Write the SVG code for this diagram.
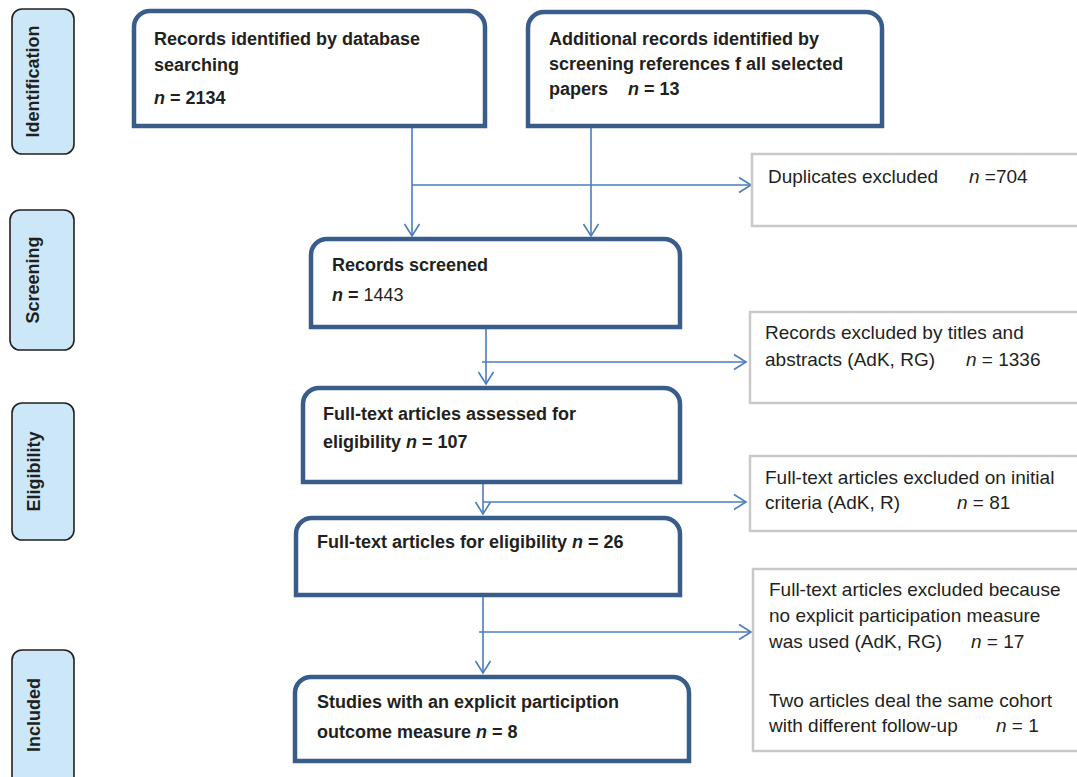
<svg xmlns="http://www.w3.org/2000/svg" width="1077" height="777" viewBox="0 0 1077 777">
<style>
text{font-family:"Liberation Sans",Arial,sans-serif;fill:#231f20}
.stage rect{fill:#cce8f8;stroke:#231f20;stroke-width:1.6}
.stage text{font-size:18px;font-weight:bold;text-anchor:middle}
.main path{fill:#fff;stroke:#385d8a;stroke-width:4.5}
.main text{font-size:18px;font-weight:bold}
.side rect{fill:#fff;stroke:#c9c9c9;stroke-width:2.5}
.side text{font-size:19px}
.rg{font-weight:normal}
.it{font-style:italic}
#connectors line{stroke:#4a7ebb;stroke-width:1.6;fill:none}
</style>
<defs>
<marker id="arr" markerUnits="userSpaceOnUse" markerWidth="16" markerHeight="18" viewBox="-14 -9 16 18" refX="0" refY="0" orient="auto" overflow="visible">
<path d="M-12,-7.5 L0,0 L-12,7.5" fill="none" stroke="#4a7ebb" stroke-width="1.6"/>
</marker>
</defs>
<rect width="1077" height="777" fill="#fff"/>

<g id="stage-identification" class="stage"><rect x="12" y="9" width="62" height="145" rx="10"/><text transform="translate(39,81.5) rotate(-90)">Identification</text></g>
<g id="stage-screening" class="stage"><rect x="10" y="210" width="64" height="140" rx="10"/><text transform="translate(39,280) rotate(-90)">Screening</text></g>
<g id="stage-eligibility" class="stage"><rect x="12" y="403" width="62" height="137" rx="10"/><text transform="translate(40,471.5) rotate(-90)">Eligibility</text></g>
<g id="stage-included" class="stage"><rect x="12" y="650" width="62" height="145" rx="10"/><text transform="translate(40,715) rotate(-90)">Included</text></g>

<g id="connectors">
<line x1="412" y1="128" x2="412" y2="236" marker-end="url(#arr)"/>
<line x1="591" y1="128" x2="591" y2="236" marker-end="url(#arr)"/>
<line x1="412" y1="185" x2="751" y2="185" marker-end="url(#arr)"/>
<line x1="486" y1="329" x2="486" y2="384" marker-end="url(#arr)"/>
<line x1="482" y1="362" x2="746" y2="362" marker-end="url(#arr)"/>
<line x1="483" y1="484" x2="483" y2="514" marker-end="url(#arr)"/>
<line x1="483" y1="502" x2="746" y2="502" marker-end="url(#arr)"/>
<line x1="483" y1="597" x2="483" y2="673" marker-end="url(#arr)"/>
<line x1="479" y1="632" x2="751" y2="632" marker-end="url(#arr)"/>
</g>

<g id="node-database" class="main">
<path d="M134,126 V27 A16,16 0 0 1 150,11 H469 A16,16 0 0 1 485,27 V126 Z"/>
<text x="154" y="45">Records identified by database</text>
<text x="154" y="71">searching</text>
<text x="154" y="104"><tspan class="it">n</tspan> = 2134</text>
</g>
<g id="node-additional" class="main">
<path d="M528,126 V28 A16,16 0 0 1 544,12 H866 A16,16 0 0 1 882,28 V126 Z"/>
<text x="549" y="45">Additional records identified by</text>
<text x="549" y="70">screening references f all selected</text>
<text x="549" y="95">papers <tspan x="628" class="it">n</tspan> = 13</text>
</g>
<g id="node-screened" class="main">
<path d="M311,327 V255 A16,16 0 0 1 327,239 H664 A16,16 0 0 1 680,255 V327 Z"/>
<text x="332" y="271">Records screened</text>
<text x="332" y="301"><tspan class="it">n</tspan> = <tspan class="rg">1443</tspan></text>
</g>
<g id="node-assessed" class="main">
<path d="M303,482 V404 A16,16 0 0 1 319,388 H664 A16,16 0 0 1 680,404 V482 Z"/>
<text x="323" y="420">Full-text articles assessed for</text>
<text x="323" y="448">eligibility <tspan class="it">n</tspan> = 107</text>
</g>
<g id="node-eligible" class="main">
<path d="M296,595 V534 A16,16 0 0 1 312,518 H664 A16,16 0 0 1 680,534 V595 Z"/>
<text x="317" y="548">Full-text articles for eligibility <tspan class="it">n</tspan> = 26</text>
</g>
<g id="node-included" class="main">
<path d="M295,761 V693 A16,16 0 0 1 311,677 H673 A16,16 0 0 1 689,693 V761 Z"/>
<text x="317" y="708">Studies with an explicit participtio<tspan>n</tspan></text>
<text x="317" y="738">outcome measure <tspan class="it">n</tspan> = 8</text>
</g>

<g id="node-duplicates" class="side">
<rect x="752" y="154" width="340" height="72"/>
<text x="768" y="183">Duplicates excluded <tspan x="969" class="it">n</tspan> =704</text>
</g>
<g id="node-excl-titles" class="side">
<rect x="750" y="312" width="340" height="91"/>
<text x="765" y="339">Records excluded by titles and</text>
<text x="765" y="366">abstracts (AdK, RG) <tspan x="966" class="it">n</tspan> = 1336</text>
</g>
<g id="node-excl-initial" class="side">
<rect x="750" y="456" width="340" height="75"/>
<text x="765" y="484">Full-text articles excluded on initial</text>
<text x="765" y="509">criteria (AdK, R) <tspan x="957" class="it">n</tspan> = 81</text>
</g>
<g id="node-excl-measure" class="side">
<rect x="753" y="569" width="340" height="182"/>
<text x="769" y="596">Full-text articles excluded because</text>
<text x="769" y="622">no explicit participation measure</text>
<text x="769" y="648">was used (AdK, RG) <tspan x="971" class="it">n</tspan> = 17</text>
<text x="769" y="707">Two articles deal the same cohort</text>
<text x="769" y="732">with different follow-up <tspan x="996" class="it">n</tspan> = 1</text>
</g>
</svg>
